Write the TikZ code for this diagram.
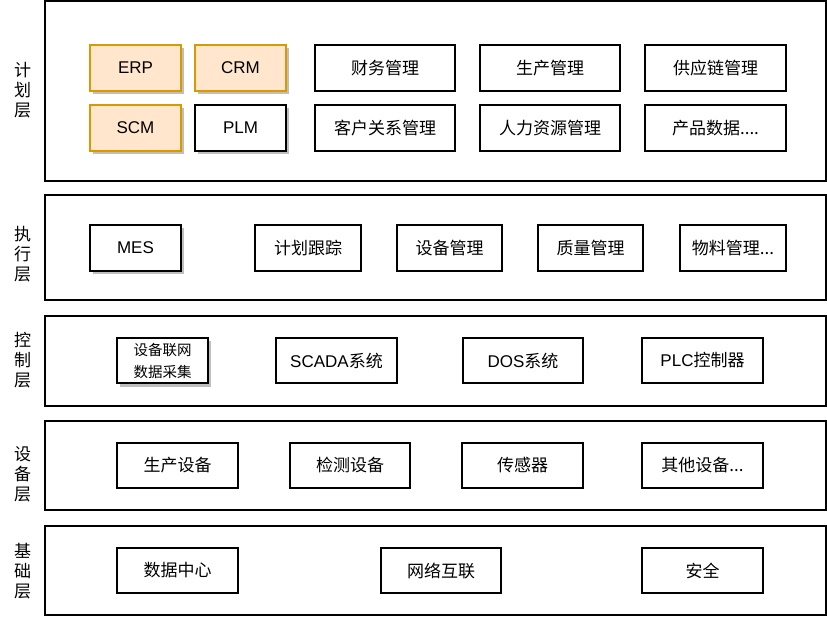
\documentclass[tikz,border=0pt]{standalone}
\usepackage{fontspec}
\setmainfont{Liberation Sans}
\newfontfamily\cjk{Noto Sans CJK SC}
\usepackage{xcolor}
\definecolor{peach}{HTML}{FFE6CC}
\definecolor{amber}{HTML}{D79B00}
\usetikzlibrary{shadows}

\begin{document}
\begin{tikzpicture}[x=1pt, y=-1pt,
  layers/.style={draw, line width=1.2pt, minimum width=781pt, inner sep=0pt},
  boxes/.style={draw, line width=1.2pt, fill=white, minimum height=46pt, inner sep=0pt, font=\fontsize{17}{20}\selectfont},
  shaded/.style={drop shadow={shadow xshift=3pt, shadow yshift=-3.5pt, fill=black!25, opacity=1}},
  highlight/.style={fill=peach, draw=amber},
  labels/.style={align=center, inner sep=0pt, font=\cjk\fontsize{17}{20}\selectfont}]

 \useasboundingbox (0,0) rectangle (827,617);


 \node [layers, minimum height=180pt] (layer_1) at (435.5,91) {};
 \node [layers, minimum height=105pt] (layer_2) at (435.5,247.5) {};
 \node [layers, minimum height=90pt] (layer_3) at (435.5,361) {};
 \node [layers, minimum height=89pt] (layer_4) at (435.5,465.5) {};
 \node [layers, minimum height=89pt] (layer_5) at (435.5,570.5) {};

 \node [labels] (label_1) at (22.5,90) {计\\划\\层};
 \node [labels] (label_2) at (22.5,254) {执\\行\\层};
 \node [labels] (label_3) at (22.5,360) {控\\制\\层};
 \node [labels] (label_4) at (22.5,474) {设\\备\\层};
 \node [labels] (label_5) at (22.5,571) {基\\础\\层};


 \node [boxes, shaded, highlight, minimum width=91pt] (box_erp) at (135.5,68) {ERP};
 \node [boxes, shaded, highlight, minimum width=91pt] (box_crm) at (240.5,68) {CRM};
 \node [boxes, shaded, highlight, minimum width=91pt] (box_scm) at (135.5,128) {SCM};
 \node [boxes, shaded, minimum width=91pt] (box_plm) at (240.5,128) {PLM};

 \node [boxes, minimum width=140pt] (box_finance) at (385,68) {\cjk 财务管理};
 \node [boxes, minimum width=140pt] (box_customer) at (385,128) {\cjk 客户关系管理};
 \node [boxes, minimum width=140pt] (box_production) at (550,68) {\cjk 生产管理};
 \node [boxes, minimum width=140pt] (box_hr) at (550,128) {\cjk 人力资源管理};
 \node [boxes, minimum width=141pt] (box_supply) at (715.5,68) {\cjk 供应链管理};
 \node [boxes, minimum width=141pt] (box_product) at (715.5,128) {\cjk 产品数据....};


 \node [boxes, shaded, minimum width=91pt] (box_mes) at (135.5,248) {MES};
 \node [boxes, minimum width=106pt] (box_tracking) at (308,248) {\cjk 计划跟踪};
 \node [boxes, minimum width=105pt] (box_equipment) at (449.5,248) {\cjk 设备管理};
 \node [boxes, minimum width=105pt] (box_quality) at (590.5,248) {\cjk 质量管理};
 \node [boxes, minimum width=106pt] (box_material) at (733,248) {\cjk 物料管理...};


 \node [boxes, shaded, minimum width=91pt, minimum height=45pt, align=center,
   font=\cjk\fontsize{14.5}{22}\selectfont] (box_collect) at (162.5,360.5) {设备联网\\数据采集};
 \node [boxes, minimum width=121pt, minimum height=45pt] (box_scada) at (336.5,360.5) {SCADA{\cjk 系统}};
 \node [boxes, minimum width=120pt, minimum height=45pt] (box_dos) at (523,360.5) {DOS{\cjk 系统}};
 \node [boxes, minimum width=121pt, minimum height=45pt] (box_plc) at (702.5,360.5) {PLC{\cjk 控制器}};


 \node [boxes, minimum width=121pt, minimum height=45pt] (box_machines) at (177.5,465.5) {\cjk 生产设备};
 \node [boxes, minimum width=120pt, minimum height=45pt] (box_testing) at (350,465.5) {\cjk 检测设备};
 \node [boxes, minimum width=121pt, minimum height=45pt] (box_sensor) at (522.5,465.5) {\cjk 传感器};
 \node [boxes, minimum width=121pt, minimum height=45pt] (box_other) at (702.5,465.5) {\cjk 其他设备...};


 \node [boxes, minimum width=121pt, minimum height=45pt] (box_datacenter) at (177.5,570.5) {\cjk 数据中心};
 \node [boxes, minimum width=120pt, minimum height=45pt] (box_network) at (441,570.5) {\cjk 网络互联};
 \node [boxes, minimum width=121pt, minimum height=45pt] (box_security) at (702.5,570.5) {\cjk 安全};


 \end{tikzpicture}
\end{document}
